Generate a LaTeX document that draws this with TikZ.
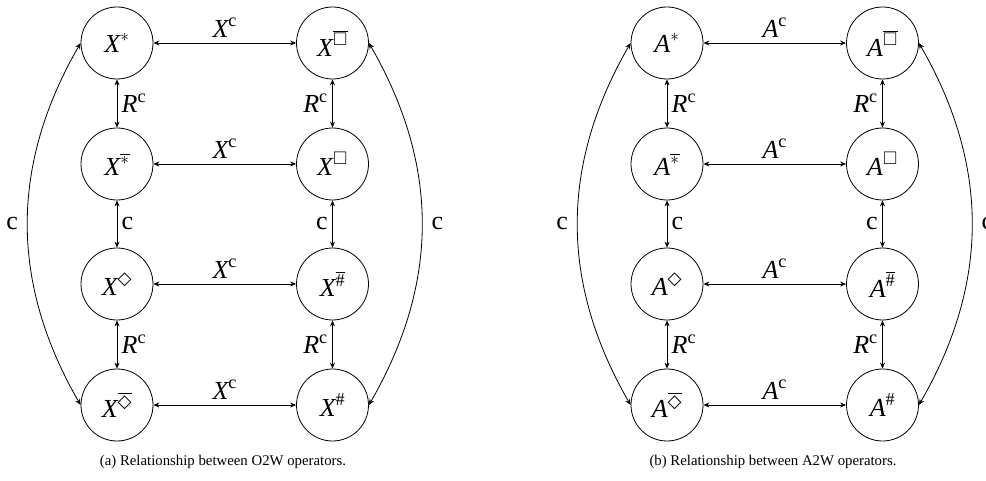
\documentclass[tikz,border=0pt]{standalone}
\usepackage{amsmath,amssymb}
\usepackage{fontspec}
\setmainfont{Liberation Serif}
\newfontfamily\symfont{DejaVu Sans}
\usetikzlibrary{arrows.meta}
\newcommand{\ovl}[1]{\overline{#1}}
\newcommand{\supsh}{\text{\#}}
\newcommand{\supdia}{\text{\symfont ◇}}
\newcommand{\drawpanel}[4]{%
  % #1 prefix, #2 letter, #3 caption, #4 xshift
  \begin{scope}[xshift=#4]
    \node[st] (#1a1) at (117,437) {$\textit{#2}^{\ast}$};
    \node[st] (#1b1) at (332.5,437) {$\textit{#2}^{\ovl{\square}}$};
    \node[st] (#1a2) at (117,316) {$\textit{#2}^{\ovl{\ast}}$};
    \node[st] (#1b2) at (332.5,316) {$\textit{#2}^{\square}$};
    \node[st] (#1a3) at (117,196) {$\textit{#2}^{\supdia}$};
    \node[st] (#1b3) at (332.5,196) {$\textit{#2}^{\ovl{\supsh}}$};
    \node[st] (#1a4) at (117,75) {$\textit{#2}^{\ovl{\supdia}}$};
    \node[st] (#1b4) at (332.5,75) {$\textit{#2}^{\supsh}$};
    \foreach \i in {1,2,3,4}{
      \draw[lk] (#1a\i) -- node[lb,above=2pt] {$\textit{#2}^{\text{c}}$} (#1b\i);
    }
    \draw[lk] (#1a1) -- node[lb,right=1pt] {$\textit{R}^{\text{c}}$} (#1a2);
    \draw[lk] (#1a2) -- node[lb,right=1pt] {c} (#1a3);
    \draw[lk] (#1a3) -- node[lb,right=1pt] {$\textit{R}^{\text{c}}$} (#1a4);
    \draw[lk] (#1b1) -- node[lb,left=1pt] {$\textit{R}^{\text{c}}$} (#1b2);
    \draw[lk] (#1b2) -- node[lb,left=1pt] {c} (#1b3);
    \draw[lk] (#1b3) -- node[lb,left=1pt] {$\textit{R}^{\text{c}}$} (#1b4);
    \draw[lk] (#1a1.west) to[bend right=30] node[lb,left=6pt] {c} (#1a4.west);
    \draw[lk] (#1b1.east) to[bend left=30] node[lb,right=6pt] {c} (#1b4.east);
    \node[captxt] (#1cap) at (223,18) {#3};
  \end{scope}}
\begin{document}
\begin{tikzpicture}[x=1pt,y=1pt,
  st/.style={circle,draw,line width=0.8pt,minimum size=72pt,inner sep=0pt,font=\fontsize{26}{30}\selectfont},
  lk/.style={{Stealth[length=6pt,width=5pt,inset=2pt]}-{Stealth[length=6pt,width=5pt,inset=2pt]},line width=0.8pt},
  lb/.style={font=\fontsize{26}{30}\selectfont},
  captxt/.style={font=\fontsize{14.8}{17}\selectfont}]
  \useasboundingbox (0,0) rectangle (986,480);
  \drawpanel{p}{X}{(a) Relationship between O2W operators.}{0pt}
  \drawpanel{q}{A}{(b) Relationship between A2W operators.}{550pt}
\end{tikzpicture}
\end{document}
